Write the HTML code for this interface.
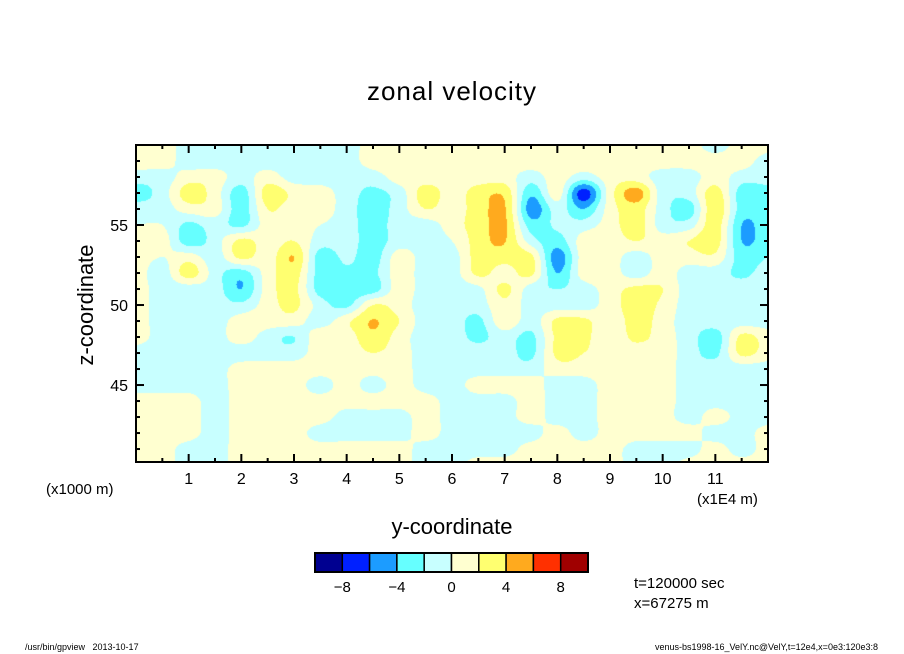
<!DOCTYPE html>
<html><head><meta charset="utf-8"><style>
body{margin:0;background:#fff;width:904px;height:654px;overflow:hidden;position:relative;font-family:"Liberation Sans",sans-serif}
.t{position:absolute;white-space:nowrap;color:#000}
</style></head><body>
<div class="t" style="left:0;width:904px;text-align:center;top:76px;font-size:26px;letter-spacing:1px">zonal velocity</div>
<div class="t" style="left:86px;top:305px;font-size:22px;transform:translate(-50%,-50%) rotate(-90deg)">z-coordinate</div>
<div class="t" style="left:0;width:904px;text-align:center;top:514px;font-size:22px">y-coordinate</div>
<div class="t" style="left:46px;top:481px;font-size:15px">(x1000 m)</div>
<div class="t" style="left:697px;top:491px;font-size:15px">(x1E4 m)</div>
<div class="t" style="left:634px;top:575px;font-size:15px">t=120000 sec</div>
<div class="t" style="left:634px;top:595px;font-size:15px">x=67275 m</div>
<div class="t" style="left:25px;top:642px;font-size:9px">/usr/bin/gpview &nbsp; 2013-10-17</div>
<div class="t" style="right:26px;top:642px;font-size:9px">venus-bs1998-16_VelY.nc@VelY,t=12e4,x=0e3:120e3:8</div>
<canvas id="cv" width="632" height="317" style="position:absolute;left:136px;top:145px"></canvas>
<svg id="sv" width="904" height="654" style="position:absolute;left:0;top:0"></svg>
<script>
const xGrid=[0,0.5,1,1.5,2,2.5,3,3.5,4,4.5,5,5.5,6,6.5,7,7.5,8,8.5,9,9.5,10,10.5,11,11.5,12];
const zGrid=[60,59,58,57,56,55,54,53,52,51,50,49,48,47,46,45,44,43,42,41,40];
const row60=[1,1,-1,-1,-1,-1,-1,-1,-1,1,1,1,1,1,1,1,1,1,1,1,1,1,-1,1,1];
const row59=[1,1,-1,-1,-1,-1,-1,-1,-1,1,1,1,1,1,1,1,1,1,1,1,1,1,1,1,-1];
const row58=[-1,-1,1,1,-1,1,-1,-1,-1,-1,1,1,1,1,1,-1,1,-1,1,1,-1,-1,1,-1,-1];
const row57=[-3,-1,3,1,-3,3,1.5,1,-1,-2.5,-1,3,1,3,3.5,-3.5,1,-7,1,5,-1,-1,3,-3,-3];
const row56=[-1,-1,1,1,-3,2,1,1,-1,-3,-1,2,1,3,4.2,-5,-1,-4,1,3,-1,-3,3.5,-3,-3];
const row55=[0,0,-2.5,-1,-2.5,1,1,0,-1,-3,-1,-1,1,3,4.3,-3,-1.5,-1,1,3,-1,-1,3,-4,-3];
const row54=[1,1,-3,-1,2.5,1,2,-1,-1,-3,-1,-1,0,3,4.1,-1,-3,1,1,2,1,2,3,-4,-3];
const row53=[1,0,1,-1,2.5,1,4,-3,-1.5,-3,1,-1,-1,3,3,2.5,-5,1,1,-1,1,1,1.5,-3,-2];
const row52=[1,-1,3,-1,-3,1,3,-3,-2.5,-2.5,1,-1,-1,2.5,1,2.5,-4,1,1,-1,1,-1,-1,-2.5,-1];
const row51=[1,-1,-1,-1,-4,1,2.5,-3,-3,-3,1,-1,-1,-0.5,2.5,-1,-2,-1,1,2.5,2,-1,-1,-1,-1];
const row50=[1,-1,-1,-1,-1.5,1,2.5,-1,-2.5,2,1,-1,-1,-1,1.5,-1,-1,-1,1,3,1.5,-1,-1,-1,-1];
const row49=[1,-1,-1,-1,1,1,1,-1,1.5,4.1,2,-1,-1,-2.5,1.5,-1,2.5,2.5,0.5,3,1,-1,-1,-1,-1];
const row48=[1,-1,-1,-1,1,-1,-2,1.5,1,3.5,1,-1,-1,-2.5,-1,-2.5,2.5,2.5,0.5,2.5,1,-1,-3,2.5,1];
const row47=[-1,-1,-1,-1,-1,-1,-1,1,1,2,1,-1,-1,-1,-1,-2.5,2.5,2,1,1,1,-1,-2.5,2.5,1];
const row46=[-1,-1,-1,-1,1,1,1,1,1,1,1,-1,-1,-1,-1,-1,1,1,1,1,1,-1,-1,-1,-1];
const row45=[-1,-1,-1,-1,1,1,1,-1,1,-1,1,-1,-1,1,1,1,-1,-1,1,1,1,-1,-1,-1,-1];
const row44=[1,1,1,-1,1,1,1,1,1,1,1,1,-1,-1,-1,1,-1,-1,1,1,1,-1,-1,-1,-1];
const row43=[1,1,1,-1,1,1,1,1,-1,-1,-1,1,-1,-1,-1,1,-1,-1,1,1,1,-1,1,-1,-1];
const row42=[1,1,1,-1,1,1,1,-1,-1,-1,-1,1,-1,-1,-1,-1,1,-1,1,1,1,1,-1,-1,1];
const row41=[1,1,-1,-1,1,1,1,1,1,1,1,-1,-1,-1,-1,1,1,1,1,-1,-1,-1,1,-1,1];
const row40=[1,1,-1,-1,1,1,1,1,1,1,1,-1,-1,1,1,1,1,1,1,-1,-1,1,1,1,1];
const levels=[-10,-8,-6,-4,-2,0,2,4,6,8,10];
const levelColors=["#000090","#0020ff","#1c9cff","#66ffff","#c8ffff","#ffffd0","#ffff70","#ffaa1e","#ff3000","#a00000"];
const xTickLabels=["1","2","3","4","5","6","7","8","9","10","11"];
const zTickLabels=["45","50","55"];
const cbLabels=["-8","-4","0","4","8"];

const rows=[row60,row59,row58,row57,row56,row55,row54,row53,row52,row51,row50,row49,row48,row47,row46,row45,row44,row43,row42,row41,row40];
const L=136,R=768,T=145,B=462,X0=0,X1=12,Z0=40.19,Z1=60;
const sx=x=>L+(x-X0)/(X1-X0)*(R-L);
const sz=z=>B-(z-Z0)/(Z1-Z0)*(B-T);
function cr(p0,p1,p2,p3,t){return 0.5*((2*p1)+(-p0+p2)*t+(2*p0-5*p1+4*p2-p3)*t*t+(-p0+3*p1-3*p2+p3)*t*t*t);}
function g(j,i){j=Math.max(0,Math.min(rows.length-1,j));i=Math.max(0,Math.min(xGrid.length-1,i));return rows[j][i];}
function val(x,z){
  let fx=(x-xGrid[0])/(xGrid[1]-xGrid[0]);let fz=(zGrid[0]-z)/(zGrid[0]-zGrid[1]);
  fx=Math.max(0,Math.min(xGrid.length-1.0001,fx));fz=Math.max(0,Math.min(zGrid.length-1.0001,fz));
  const i=Math.floor(fx),j=Math.floor(fz),a=fx-i,b=fz-j;
  const c=[];for(let k=-1;k<=2;k++){c.push(cr(g(j+k,i-1),g(j+k,i),g(j+k,i+1),g(j+k,i+2),a));}
  return cr(c[0],c[1],c[2],c[3],b);
}
const cv=document.getElementById('cv');const ctx=cv.getContext('2d');
const img=ctx.createImageData(cv.width,cv.height);
const rgb=levelColors.map(c=>[parseInt(c.slice(1,3),16),parseInt(c.slice(3,5),16),parseInt(c.slice(5,7),16)]);
for(let py=0;py<cv.height;py++){const z=Z1-(py+0.5)/(B-T)*(Z1-Z0);
 for(let px=0;px<cv.width;px++){const x=X0+(px+0.5)/(R-L)*(X1-X0);const v=val(x,z);
  let k=levelColors.length-1;for(let i=0;i<levelColors.length;i++){if(v<levels[i+1]){k=i;break;}}
  const o=(py*cv.width+px)*4;img.data[o]=rgb[k][0];img.data[o+1]=rgb[k][1];img.data[o+2]=rgb[k][2];img.data[o+3]=255;}}
ctx.putImageData(img,0,0);

const NS="http://www.w3.org/2000/svg";const sv=document.getElementById('sv');
function mk(tag,attrs){const e=document.createElementNS(NS,tag);for(const k in attrs)e.setAttribute(k,attrs[k]);sv.appendChild(e);return e;}
let e=mk('rect',{x:L,y:T,width:R-L,height:B-T,fill:'none',stroke:'#000','stroke-width':2});


for(let x=0.5;x<12;x+=0.5){const maj=Math.abs(x-Math.round(x))<0.01;const len=maj?8:4;
 e=mk('line',{x1:sx(x),x2:sx(x),y1:B,y2:B-len,stroke:'#000','stroke-width':2});
 
 
 e=mk('line',{x1:sx(x),x2:sx(x),y1:T,y2:T+len,stroke:'#000','stroke-width':2});
 
 }
for(let z=41;z<60;z+=1){const maj=z%5===0;const len=maj?8:4;
 e=mk('line',{x1:L,x2:L+len,y1:sz(z),y2:sz(z),stroke:'#000','stroke-width':2});
 
 
 e=mk('line',{x1:R,x2:R-len,y1:sz(z),y2:sz(z),stroke:'#000','stroke-width':2});
 
 }
xTickLabels.forEach((t,i)=>{e=mk('text',{x:sx(+t),y:484,'text-anchor':'middle','font-size':16,'font-family':'Liberation Sans, sans-serif'});e.textContent=t;
 
 });
zTickLabels.forEach(t=>{e=mk('text',{x:128,y:sz(+t)+6,'text-anchor':'end','font-size':16,'font-family':'Liberation Sans, sans-serif'});e.textContent=t;
 
 });
const cbL=315,cbR=588,cbT=553,cbB=572,bw=(cbR-cbL)/levelColors.length;
levelColors.forEach((c,i)=>{e=mk('rect',{x:cbL+i*bw,y:cbT,width:bw,height:cbB-cbT,fill:c,stroke:'#000','stroke-width':1.5});
 
 });
e=mk('rect',{x:cbL,y:cbT,width:cbR-cbL,height:cbB-cbT,fill:'none',stroke:'#000','stroke-width':2});


cbLabels.forEach(t=>{const k=levels.indexOf(+t);e=mk('text',{x:cbL+k*bw,y:592,'text-anchor':'middle','font-size':15,'font-family':'Liberation Sans, sans-serif'});e.textContent=t.replace('-','\u2212');
 
 });
</script>
</body></html>
